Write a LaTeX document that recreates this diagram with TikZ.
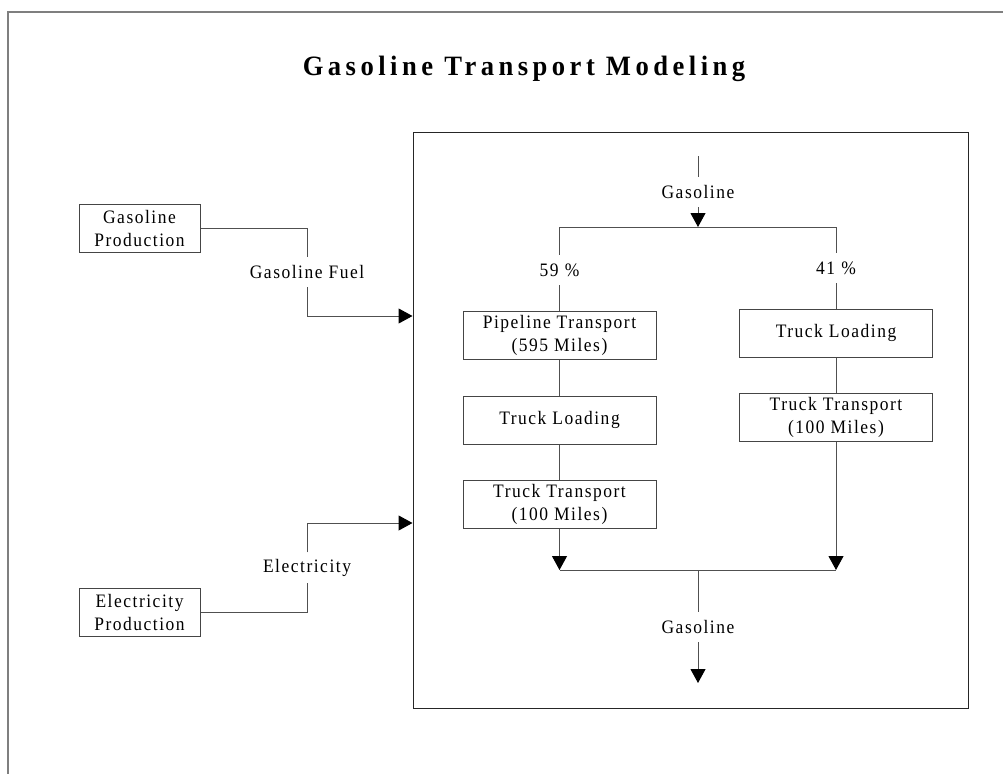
\documentclass[tikz,border=0pt]{standalone}
\usepackage{fontspec}
\setmainfont{Liberation Serif}
\usetikzlibrary{arrows.meta}
\definecolor{framegray}{HTML}{7F7F7F}
\definecolor{boxgray}{HTML}{454545}
\definecolor{linegray}{HTML}{505050}
\newcommand\bodyfont{\fontsize{19}{23}\selectfont\addfontfeature{FakeStretch=0.92,LetterSpace=8}}
\newcommand\titlefont{\fontsize{28}{32}\selectfont\bfseries\addfontfeature{FakeStretch=0.95,LetterSpace=16}}
\begin{document}
\begin{tikzpicture}[x=1pt,y=-1pt,
  every node/.style={font=\bodyfont, text=black},
  proc/.style={draw=boxgray, line width=1pt, minimum width=193pt, minimum height=48pt,
               align=center, inner sep=0pt},
  src/.style={proc, minimum width=121pt},
  lbl/.style={inner sep=0pt, minimum height=30pt},
  flow/.style={draw=linegray, line width=1pt},
  tip/.style={-{Triangle[length=14pt,width=15pt,color=black]}}
]
\useasboundingbox (0,0) rectangle (1003,774);

% page frame
\draw[framegray, line width=2pt] (1003,12) -- (8,12) -- (8,774);

% title
\node[font=\titlefont, anchor=base] (title) at (524,75) {Gasoline Transport Modeling};

% transport stage
\node[draw=black!85, line width=1pt, minimum width=555pt, minimum height=576pt,
      inner sep=0pt] (stage) at (690.5,420) {};

% incoming gasoline and split
\coordinate (gtop) at (698,156);
\node[lbl] (gin) at (698,192) {Gasoline};
\coordinate (split) at (698,227);
\coordinate (sl) at (559.5,227);
\coordinate (sr) at (836,227);
\draw[flow] (gtop) -- (gin.north);
\draw[flow,tip] (gin.south) -- (split);
\draw[flow] (sl) -- (sr);

\node[lbl] (p59) at (559.5,270) {59\,\,\%};
\node[lbl] (p41) at (836,268) {41\,\,\%};

% pipeline route
\node[proc] (pipe) at (559.5,335) {Pipeline Transport\\(595 Miles)};
\node[proc] (tl1)  at (559.5,420) {Truck Loading};
\node[proc] (tt1)  at (559.5,504) {Truck Transport\\(100 Miles)};

% truck route
\node[proc] (tl2) at (836,333) {Truck Loading};
\node[proc] (tt2) at (836,417) {Truck Transport\\(100 Miles)};

\draw[flow] (sl) -- (p59.north);
\draw[flow] (p59.south) -- (pipe.north);
\draw[flow] (pipe.south) -- (tl1.north);
\draw[flow] (tl1.south) -- (tt1.north);

\draw[flow] (sr) -- (p41.north);
\draw[flow] (p41.south) -- (tl2.north);
\draw[flow] (tl2.south) -- (tt2.north);

% merge and outgoing gasoline
\coordinate (ml) at (559.5,570);
\coordinate (mr) at (836,570);
\coordinate (mc) at (698,570);
\draw[flow,tip] (tt1.south) -- (ml);
\draw[flow,tip] (tt2.south) -- (mr);
\draw[flow] (ml) -- (mr);
\node[lbl] (gout) at (698,627) {Gasoline};
\coordinate (gend) at (698,683);
\draw[flow] (mc) -- (gout.north);
\draw[flow,tip] (gout.south) -- (gend);

% upstream inputs
\node[src] (gp) at (139.5,228) {Gasoline\\Production};
\node[src] (ep) at (139.5,612) {Electricity\\Production};

\node[lbl] (gf) at (307,272) {Gasoline Fuel};
\node[lbl] (el) at (307,567.5) {Electricity};
\coordinate (gfin) at (stage.west |- 0,316);
\coordinate (elin) at (stage.west |- 0,523);

\draw[flow] (gp.east) -| (gf.north);
\draw[flow,tip] (gf.south) |- (gfin);
\draw[flow] (ep.east) -| (el.south);
\draw[flow,tip] (el.north) |- (elin);
\end{tikzpicture}
\end{document}
